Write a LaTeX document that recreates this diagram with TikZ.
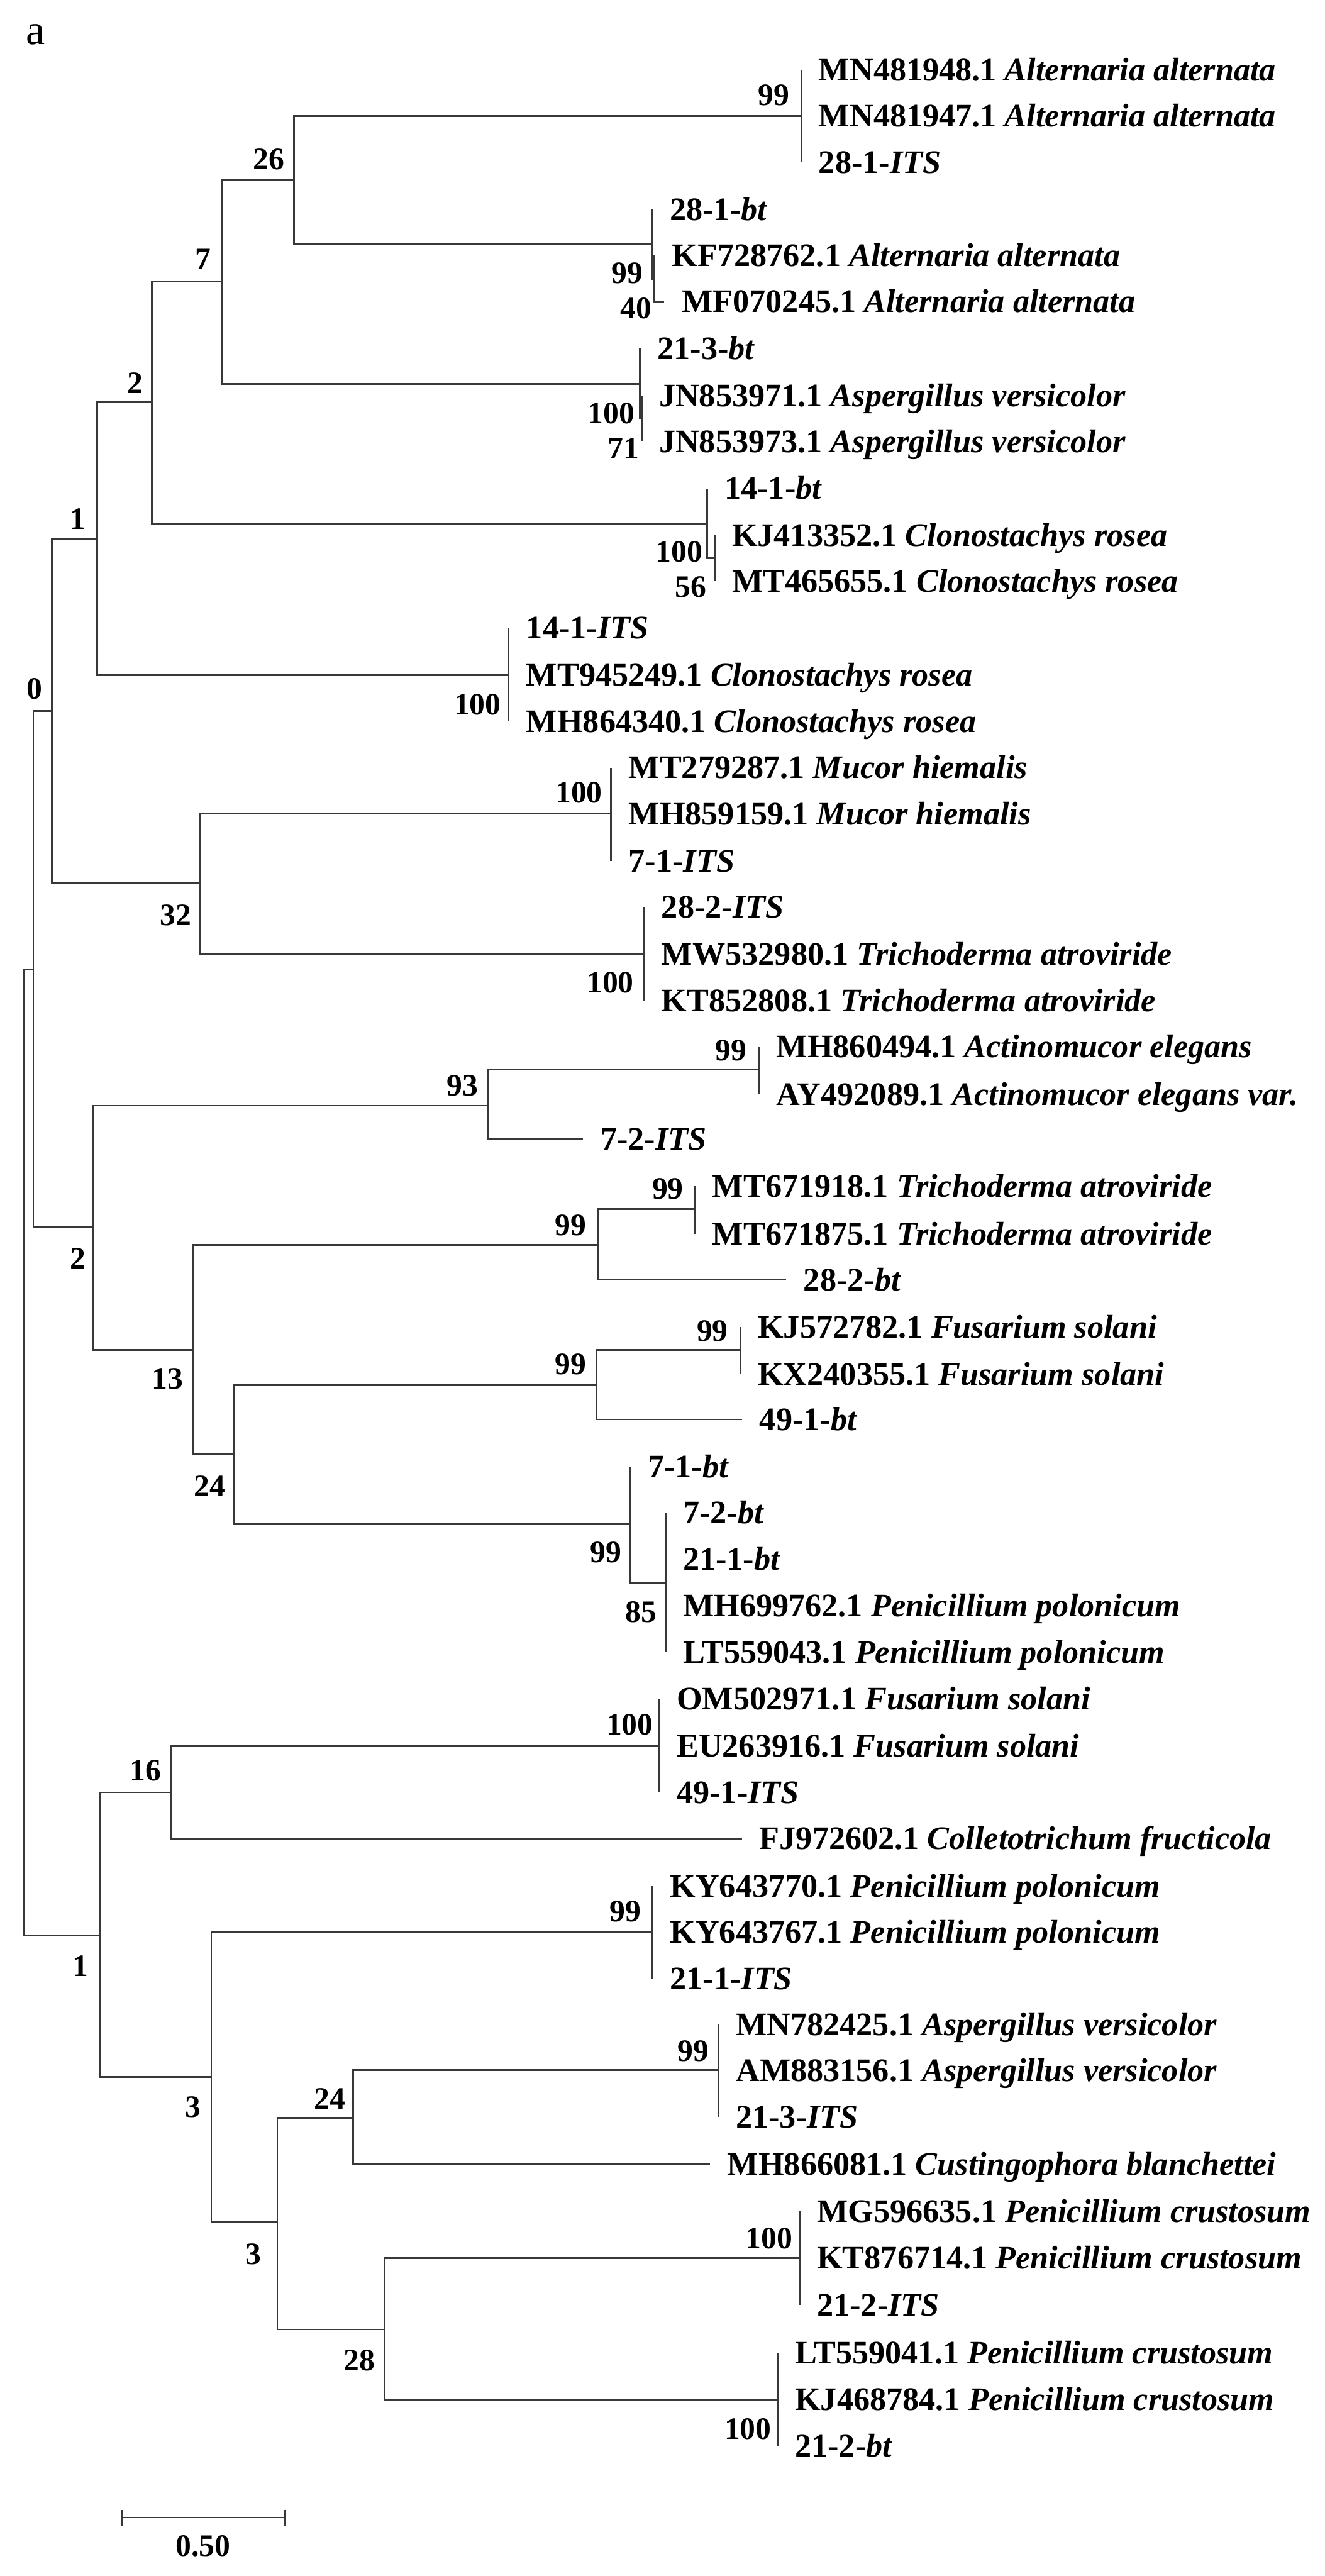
\documentclass[tikz,border=0pt]{standalone}
\usepackage{fontspec}
\setmainfont{Liberation Serif}
\usetikzlibrary{calc}
\begin{document}
\begin{tikzpicture}[x=1pt,y=-1pt,
  br/.style={line width=1.1pt,draw=black!78,line join=miter},
  lab/.style={anchor=base west,inner sep=0pt,xshift=10.5pt,yshift=-6.6pt,font=\fontsize{20}{24}\selectfont\bfseries},
  bs/.style={anchor=center,inner sep=0pt,font=\fontsize{19}{22}\selectfont\bfseries}]
\useasboundingbox (0,0) rectangle (806.4,1568);
\node[anchor=center,inner sep=0pt,font=\fontsize{26}{30}\selectfont] (panel) at (21.6,21) {a};
% internal nodes
\coordinate (R) at (14.7,883.6);
\coordinate (A) at (20.3,590.1);
\coordinate (L1) at (60.7,1178);
\coordinate (N0) at (31.6,432.6);
\coordinate (N2b) at (56.6,746.7);
\coordinate (N1) at (59.2,327.9);
\coordinate (N32) at (121.9,537.6);
\coordinate (N2) at (92.6,244.9);
\coordinate (N14ITS) at (309.7,410.8);
\coordinate (N7) at (134.8,171.5);
\coordinate (N14bt) at (430.4,318.7);
\coordinate (N26) at (179,109.7);
\coordinate (N21bt) at (389.6,233.6);
\coordinate (NAlt) at (487.7,70.6);
\coordinate (N28bt) at (397.1,148.8);
\coordinate (N40) at (398.4,169.9);
\coordinate (N71) at (390.5,254.9);
\coordinate (N56) at (434.9,339.8);
\coordinate (NMuc) at (372,495.3);
\coordinate (NTri) at (392,580.9);
\coordinate (N93) at (297.4,673);
\coordinate (N13) at (117.3,821.6);
\coordinate (NAct) at (462,651);
\coordinate (N99T) at (363.8,757.7);
\coordinate (N99Ti) at (423,736);
\coordinate (N24) at (142.5,885);
\coordinate (N99F) at (363.2,843);
\coordinate (N99Fi) at (450.7,821.6);
\coordinate (N99P) at (383.7,927.8);
\coordinate (N85) at (405.1,963.4);
\coordinate (N16) at (103.9,1091);
\coordinate (NFus) at (401.3,1062.7);
\coordinate (N3a) at (128.6,1264.2);
\coordinate (NPenI) at (397.2,1176);
\coordinate (N3b) at (168.8,1352.5);
\coordinate (N24b) at (215,1289);
\coordinate (NAspI) at (437.3,1260.1);
\coordinate (N28) at (234.1,1417.9);
\coordinate (NCru1) at (486.7,1374.5);
\coordinate (NCru2) at (473.3,1460.6);
% leaves
\coordinate (lA1) at (487.7,42.5);
\coordinate (lA2) at (487.7,70.6);
\coordinate (lA3) at (487.7,98.7);
\coordinate (lB1) at (397.1,127.6);
\coordinate (lB2) at (398.4,155.5);
\coordinate (lB3) at (404.4,183.5);
\coordinate (lC1) at (389.6,212);
\coordinate (lC2) at (390.5,240.9);
\coordinate (lC3) at (390.5,268.9);
\coordinate (lD1) at (430.4,297.3);
\coordinate (lD2) at (434.9,325.8);
\coordinate (lD3) at (434.9,353.8);
\coordinate (lE1) at (309.7,382.3);
\coordinate (lE2) at (309.7,410.8);
\coordinate (lE3) at (309.7,439.2);
\coordinate (lF1) at (372,467.3);
\coordinate (lF2) at (372,495.3);
\coordinate (lF3) at (372,524.2);
\coordinate (lG1) at (392,552);
\coordinate (lG2) at (392,580.9);
\coordinate (lG3) at (392,609);
\coordinate (lH1) at (462,637);
\coordinate (lH2) at (462,666);
\coordinate (lH3) at (355,693.5);
\coordinate (lI1) at (423,722);
\coordinate (lI2) at (423,751);
\coordinate (lI3) at (478.5,779);
\coordinate (lJ1) at (450.7,807.7);
\coordinate (lJ2) at (450.7,836.6);
\coordinate (lJ3) at (451.7,864);
\coordinate (lK1) at (383.7,892.9);
\coordinate (lK2) at (405.1,920.9);
\coordinate (lK3) at (405.1,949.2);
\coordinate (lK4) at (405.1,977.5);
\coordinate (lK5) at (405.1,1005.8);
\coordinate (lL1) at (401.3,1034.2);
\coordinate (lL2) at (401.3,1062.7);
\coordinate (lL3) at (401.3,1091);
\coordinate (lL4) at (451.7,1119);
\coordinate (lM1) at (397.2,1148);
\coordinate (lM2) at (397.2,1176);
\coordinate (lM3) at (397.2,1204.4);
\coordinate (lN1) at (437.3,1232.2);
\coordinate (lN2) at (437.3,1260.3);
\coordinate (lN3) at (437.3,1288.5);
\coordinate (lN4) at (432.2,1317.4);
\coordinate (lO1) at (486.7,1346);
\coordinate (lO2) at (486.7,1374.5);
\coordinate (lO3) at (486.7,1402.9);
\coordinate (lP1) at (473.3,1432);
\coordinate (lP2) at (473.3,1460.6);
\coordinate (lP3) at (473.3,1489);
% branches
\foreach \p/\c in {R/A,R/L1,A/N0,A/N2b,N0/N1,N0/N32,N1/N2,N1/N14ITS,N2/N7,N2/N14bt,
  N7/N26,N7/N21bt,N26/NAlt,N26/N28bt,NAlt/lA1,NAlt/lA2,NAlt/lA3,N28bt/lB1,N28bt/N40,N40/lB2,N40/lB3,
  N21bt/lC1,N21bt/N71,N71/lC2,N71/lC3,N14bt/lD1,N14bt/N56,N56/lD2,N56/lD3,
  N14ITS/lE1,N14ITS/lE2,N14ITS/lE3,N32/NMuc,N32/NTri,NMuc/lF1,NMuc/lF2,NMuc/lF3,NTri/lG1,NTri/lG2,NTri/lG3,
  N2b/N93,N2b/N13,N93/NAct,N93/lH3,NAct/lH1,NAct/lH2,N13/N99T,N13/N24,N99T/N99Ti,N99T/lI3,N99Ti/lI1,N99Ti/lI2,
  N24/N99F,N24/N99P,N99F/N99Fi,N99F/lJ3,N99Fi/lJ1,N99Fi/lJ2,N99P/lK1,N99P/N85,N85/lK2,N85/lK3,N85/lK4,N85/lK5,
  L1/N16,L1/N3a,N16/NFus,N16/lL4,NFus/lL1,NFus/lL2,NFus/lL3,N3a/NPenI,N3a/N3b,NPenI/lM1,NPenI/lM2,NPenI/lM3,
  N3b/N24b,N3b/N28,N24b/NAspI,N24b/lN4,NAspI/lN1,NAspI/lN2,NAspI/lN3,N28/NCru1,N28/NCru2,
  NCru1/lO1,NCru1/lO2,NCru1/lO3,NCru2/lP1,NCru2/lP2,NCru2/lP3}
  \draw[br] (\p) |- (\c);
% leaf labels
\node[lab] (tA1) at (lA1) {MN481948.1 \textit{Alternaria alternata}};
\node[lab] (tA2) at (lA2) {MN481947.1 \textit{Alternaria alternata}};
\node[lab] (tA3) at (lA3) {28-1-\textit{ITS}};
\node[lab] (tB1) at (lB1) {28-1-\textit{bt}};
\node[lab] (tB2) at (lB2) {KF728762.1 \textit{Alternaria alternata}};
\node[lab] (tB3) at (lB3) {MF070245.1 \textit{Alternaria alternata}};
\node[lab] (tC1) at (lC1) {21-3-\textit{bt}};
\node[lab] (tC2) at (lC2) {JN853971.1 \textit{Aspergillus versicolor}};
\node[lab] (tC3) at (lC3) {JN853973.1 \textit{Aspergillus versicolor}};
\node[lab] (tD1) at (lD1) {14-1-\textit{bt}};
\node[lab] (tD2) at (lD2) {KJ413352.1 \textit{Clonostachys rosea}};
\node[lab] (tD3) at (lD3) {MT465655.1 \textit{Clonostachys rosea}};
\node[lab] (tE1) at (lE1) {14-1-\textit{ITS}};
\node[lab] (tE2) at (lE2) {MT945249.1 \textit{Clonostachys rosea}};
\node[lab] (tE3) at (lE3) {MH864340.1 \textit{Clonostachys rosea}};
\node[lab] (tF1) at (lF1) {MT279287.1 \textit{Mucor hiemalis}};
\node[lab] (tF2) at (lF2) {MH859159.1 \textit{Mucor hiemalis}};
\node[lab] (tF3) at (lF3) {7-1-\textit{ITS}};
\node[lab] (tG1) at (lG1) {28-2-\textit{ITS}};
\node[lab] (tG2) at (lG2) {MW532980.1 \textit{Trichoderma atroviride}};
\node[lab] (tG3) at (lG3) {KT852808.1 \textit{Trichoderma atroviride}};
\node[lab] (tH1) at (lH1) {MH860494.1 \textit{Actinomucor elegans}};
\node[lab] (tH2) at (lH2) {AY492089.1 \textit{Actinomucor elegans var.}};
\node[lab] (tH3) at (lH3) {7-2-\textit{ITS}};
\node[lab] (tI1) at (lI1) {MT671918.1 \textit{Trichoderma atroviride}};
\node[lab] (tI2) at (lI2) {MT671875.1 \textit{Trichoderma atroviride}};
\node[lab] (tI3) at (lI3) {28-2-\textit{bt}};
\node[lab] (tJ1) at (lJ1) {KJ572782.1 \textit{Fusarium solani}};
\node[lab] (tJ2) at (lJ2) {KX240355.1 \textit{Fusarium solani}};
\node[lab] (tJ3) at (lJ3) {49-1-\textit{bt}};
\node[lab] (tK1) at (lK1) {7-1-\textit{bt}};
\node[lab] (tK2) at (lK2) {7-2-\textit{bt}};
\node[lab] (tK3) at (lK3) {21-1-\textit{bt}};
\node[lab] (tK4) at (lK4) {MH699762.1 \textit{Penicillium polonicum}};
\node[lab] (tK5) at (lK5) {LT559043.1 \textit{Penicillium polonicum}};
\node[lab] (tL1) at (lL1) {OM502971.1 \textit{Fusarium solani}};
\node[lab] (tL2) at (lL2) {EU263916.1 \textit{Fusarium solani}};
\node[lab] (tL3) at (lL3) {49-1-\textit{ITS}};
\node[lab] (tL4) at (lL4) {FJ972602.1 \textit{Colletotrichum fructicola}};
\node[lab] (tM1) at (lM1) {KY643770.1 \textit{Penicillium polonicum}};
\node[lab] (tM2) at (lM2) {KY643767.1 \textit{Penicillium polonicum}};
\node[lab] (tM3) at (lM3) {21-1-\textit{ITS}};
\node[lab] (tN1) at (lN1) {MN782425.1 \textit{Aspergillus versicolor}};
\node[lab] (tN2) at (lN2) {AM883156.1 \textit{Aspergillus versicolor}};
\node[lab] (tN3) at (lN3) {21-3-\textit{ITS}};
\node[lab] (tN4) at (lN4) {MH866081.1 \textit{Custingophora blanchettei}};
\node[lab] (tO1) at (lO1) {MG596635.1 \textit{Penicillium crustosum}};
\node[lab] (tO2) at (lO2) {KT876714.1 \textit{Penicillium crustosum}};
\node[lab] (tO3) at (lO3) {21-2-\textit{ITS}};
\node[lab] (tP1) at (lP1) {LT559041.1 \textit{Penicillium crustosum}};
\node[lab] (tP2) at (lP2) {KJ468784.1 \textit{Penicillium crustosum}};
\node[lab] (tP3) at (lP3) {21-2-\textit{bt}};
% bootstrap values
\node[bs] (b99A) at (471,57.8) {99};
\node[bs] (b26) at (163.6,97) {26};
\node[bs] (b7) at (123.5,158) {7};
\node[bs] (b99B) at (381.8,166.1) {99};
\node[bs] (b40) at (387.3,187.5) {40};
\node[bs] (b2) at (82.3,233) {2};
\node[bs] (b100C) at (372,251.5) {100};
\node[bs] (b71) at (379.6,272.9) {71};
\node[bs] (b1) at (47.3,316) {1};
\node[bs] (b100D) at (413.3,336) {100};
\node[bs] (b56) at (420.5,357.3) {56};
\node[bs] (b0) at (21.1,419.2) {0};
\node[bs] (b100E) at (290.7,429) {100};
\node[bs] (b100F) at (352.4,482.6) {100};
\node[bs] (b32) at (107,557.1) {32};
\node[bs] (b100G) at (371.5,598) {100};
\node[bs] (b99H) at (445,639.6) {99};
\node[bs] (b93) at (281.4,660.8) {93};
\node[bs] (b99I) at (406.5,723.7) {99};
\node[bs] (b99T) at (347.3,745.8) {99};
\node[bs] (b2b) at (47.3,766.2) {2};
\node[bs] (b99J) at (433.7,810.2) {99};
\node[bs] (b99F) at (347.3,830.6) {99};
\node[bs] (b13) at (101.9,839.1) {13};
\node[bs] (b24) at (127.6,904.6) {24};
\node[bs] (b99P) at (368.9,944.9) {99};
\node[bs] (b85) at (390.3,981.4) {85};
\node[bs] (b100L) at (383.3,1049.9) {100};
\node[bs] (b16) at (88.5,1077.7) {16};
\node[bs] (b99M) at (380.7,1163.6) {99};
\node[bs] (b1b) at (48.9,1196.7) {1};
\node[bs] (b99N) at (421.9,1248.6) {99};
\node[bs] (b24b) at (200.7,1277.5) {24};
\node[bs] (b3) at (117.3,1282.6) {3};
\node[bs] (b100O) at (468.2,1362.5) {100};
\node[bs] (b3b) at (154.4,1372.2) {3};
\node[bs] (b28) at (218.7,1436.6) {28};
\node[bs] (b100P) at (455.3,1478.5) {100};
% scale bar
\coordinate (sbL) at (74.6,1532.4);
\coordinate (sbR) at (173.4,1532.4);
\coordinate (sbLt) at (74.6,1527.6);
\coordinate (sbLb) at (74.6,1537.7);
\coordinate (sbRt) at (173.4,1527.6);
\coordinate (sbRb) at (173.4,1537.7);
\draw[br] (sbL) -- (sbR);
\draw[br] (sbLt) -- (sbLb);
\draw[br] (sbRt) -- (sbRb);
\node[bs] (sbtext) at (123.5,1549.6) {0.50};
\end{tikzpicture}
\end{document}
